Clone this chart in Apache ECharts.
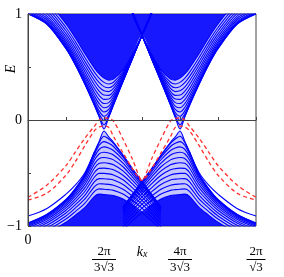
<!DOCTYPE html>
<html><head><meta charset="utf-8">
<script src="https://cdn.jsdelivr.net/npm/echarts@6/dist/echarts.min.js"></script>
<style>html,body{margin:0;padding:0;background:#fff}#c{width:284px;height:277px}</style>
</head><body><div id="c"></div>
<script>
// k_x sample positions (0 .. 2π/√3)
const K = [0, 0.3023, 0.6046, 0.7557, 0.9069, 1.0580, 1.1336, 1.2092, 1.2848, 1.3603, 1.5115, 1.6626, 1.8138, 1.9649, 2.1161, 2.2672, 2.3428, 2.4184, 2.4940, 2.5695, 2.7207, 2.8718, 3.0230, 3.3253, 3.6276];

// conduction-band lines around the left Dirac point (K index 0..14)
const cbL = [
 [1.0, .902, .672, .517, .334, .135, .027, -.085, .025, .140, .362, .579, .80, 1.021, 1.3],
 [1.002, .904, .674, .519, .337, .139, .035, -.045, .031, .142, .363, .579, .80, 1.021, 1.3],
 [1.006, .909, .680, .525, .345, .152, .056, -.005, .048, .150, .366, .580, .80, 1.020, 1.3],
 [1.014, .917, .689, .536, .358, .172, .084, .035, .071, .162, .370, .582, .80, 1.020, 1.3],
 [1.025, .928, .702, .550, .376, .197, .118, .075, .100, .178, .376, .584, .80, 1.019, 1.3],
 [1.039, .943, .718, .569, .398, .227, .154, .115, .131, .198, .383, .586, .80, 1.017, 1.3],
 [1.056, .960, .737, .590, .423, .260, .192, .155, .164, .220, .392, .589, .80, 1.015, 1.3],
 [1.076, .980, .760, .615, .452, .295, .231, .195, .198, .244, .403, .593, .80, 1.013, 1.3],
 [1.098, 1.003, .785, .642, .483, .332, .271, .235, .232, .270, .415, .597, .80, 1.011, 1.3],
 [1.122, 1.028, .812, .672, .516, .370, .311, .275, .268, .298, .428, .602, .80, 1.008, 1.3],
 [1.149, 1.055, .842, .703, .551, .409, .352, .315, .304, .326, .442, .607, .80, 1.005, 1.3],
 [1.178, 1.085, .873, .737, .587, .449, .393, .355, .340, .356, .457, .612, .80, 1.001, 1.3],
 [1.209, 1.116, .907, .773, .625, .490, .434, .395, .376, .386, .473, .619, .80, .997, 1.3]
];
// conduction-band lines around the right Dirac point (K index 10..24)
const cbR = [
 [1.3, 1.021, .80, .579, .362, .140, .025, -.085, .027, .135, .334, .517, .672, .902, 1.0],
 [1.3, 1.021, .80, .579, .363, .142, .031, -.045, .035, .139, .337, .519, .674, .904, 1.002],
 [1.3, 1.020, .80, .580, .366, .150, .048, -.005, .056, .152, .345, .525, .680, .909, 1.006],
 [1.3, 1.020, .80, .582, .370, .162, .071, .035, .084, .172, .358, .536, .689, .917, 1.014],
 [1.3, 1.019, .80, .584, .376, .178, .100, .075, .118, .197, .376, .550, .702, .928, 1.025],
 [1.3, 1.017, .80, .586, .383, .198, .131, .115, .154, .227, .398, .569, .718, .943, 1.039],
 [1.3, 1.015, .80, .589, .392, .220, .164, .155, .192, .260, .423, .590, .737, .960, 1.056],
 [1.3, 1.013, .80, .593, .403, .244, .198, .195, .231, .295, .452, .615, .760, .980, 1.076],
 [1.3, 1.011, .80, .597, .415, .270, .232, .235, .271, .332, .483, .642, .785, 1.003, 1.098],
 [1.3, 1.008, .80, .602, .428, .298, .268, .275, .311, .370, .516, .672, .812, 1.028, 1.122],
 [1.3, 1.005, .80, .607, .442, .326, .304, .315, .352, .409, .551, .703, .842, 1.055, 1.149],
 [1.3, 1.001, .80, .612, .457, .356, .340, .355, .393, .449, .587, .737, .873, 1.085, 1.178],
 [1.3, .997, .80, .619, .473, .386, .376, .395, .434, .490, .625, .773, .907, 1.116, 1.209]
];
// valence-band lines, left (K index 0..14)
const vbL = [
 [-.972, -.89, -.75, -.645, -.51, -.30, -.20, -.104, -.16, -.21, -.33, -.46, -.58, -.70, -.82],
 [-.973, -.891, -.752, -.647, -.513, -.306, -.211, -.154, -.179, -.221, -.336, -.464, -.583, -.702, -.822],
 [-.977, -.895, -.757, -.654, -.522, -.322, -.238, -.204, -.219, -.250, -.351, -.474, -.590, -.708, -.827],
 [-.983, -.902, -.765, -.664, -.536, -.347, -.276, -.254, -.264, -.288, -.375, -.490, -.603, -.719, -.836],
 [-.992, -.911, -.777, -.678, -.556, -.378, -.318, -.304, -.312, -.330, -.406, -.512, -.620, -.733, -.847],
 [-1.003, -.923, -.792, -.696, -.580, -.414, -.363, -.354, -.360, -.376, -.441, -.539, -.642, -.750, -.862],
 [-1.016, -.937, -.809, -.717, -.607, -.453, -.409, -.404, -.409, -.422, -.480, -.570, -.667, -.771, -.880],
 [-1.032, -.954, -.829, -.742, -.638, -.495, -.456, -.454, -.459, -.470, -.521, -.603, -.695, -.795, -.901],
 [-1.049, -.972, -.852, -.768, -.672, -.538, -.504, -.504, -.508, -.518, -.563, -.640, -.726, -.822, -.924],
 [-1.069, -.993, -.877, -.798, -.708, -.582, -.553, -.554, -.558, -.566, -.608, -.678, -.759, -.851, -.950],
 [-1.090, -1.016, -.905, -.829, -.745, -.628, -.601, -.604, -.607, -.615, -.653, -.718, -.794, -.882, -.977],
 [-1.113, -1.040, -.934, -.862, -.784, -.674, -.650, -.654, -.657, -.664, -.699, -.759, -.831, -.915, -1.007],
 [-1.138, -1.066, -.965, -.897, -.825, -.721, -.699, -.704, -.707, -.713, -.745, -.802, -.870, -.950, -1.038]
];
// valence-band lines, right (K index 10..24)
const vbR = [
 [-.82, -.70, -.58, -.46, -.33, -.21, -.16, -.104, -.20, -.30, -.51, -.645, -.75, -.89, -.972],
 [-.822, -.702, -.583, -.464, -.336, -.221, -.179, -.154, -.211, -.306, -.513, -.647, -.752, -.891, -.973],
 [-.827, -.708, -.590, -.474, -.351, -.250, -.219, -.204, -.238, -.322, -.522, -.654, -.757, -.895, -.977],
 [-.836, -.719, -.603, -.490, -.375, -.288, -.264, -.254, -.276, -.347, -.536, -.664, -.765, -.902, -.983],
 [-.847, -.733, -.620, -.512, -.406, -.330, -.312, -.304, -.318, -.378, -.556, -.678, -.777, -.911, -.992],
 [-.862, -.750, -.642, -.539, -.441, -.376, -.360, -.354, -.363, -.414, -.580, -.696, -.792, -.923, -1.003],
 [-.880, -.771, -.667, -.570, -.480, -.422, -.409, -.404, -.409, -.453, -.607, -.717, -.809, -.937, -1.016],
 [-.901, -.795, -.695, -.603, -.521, -.470, -.459, -.454, -.456, -.495, -.638, -.742, -.829, -.954, -1.032],
 [-.924, -.822, -.726, -.640, -.563, -.518, -.508, -.504, -.504, -.538, -.672, -.768, -.852, -.972, -1.049],
 [-.950, -.851, -.759, -.678, -.608, -.566, -.558, -.554, -.553, -.582, -.708, -.798, -.877, -.993, -1.069],
 [-.977, -.882, -.794, -.718, -.653, -.615, -.607, -.604, -.601, -.628, -.745, -.829, -.905, -1.016, -1.090],
 [-1.007, -.915, -.831, -.759, -.699, -.664, -.657, -.654, -.650, -.674, -.784, -.862, -.934, -1.040, -1.113],
 [-1.038, -.950, -.870, -.802, -.745, -.713, -.707, -.704, -.699, -.721, -.825, -.897, -.965, -1.066, -1.138]
];
// separated valence line near the zone edges
const isoL = [-.906, -.834, -.70, -.613, -.495, -.30];          // K index 0..5
const isoR = [-.30, -.495, -.613, -.70, -.834, -.906];          // K index 19..24
// band edges (light fill) and dense-band boundaries (solid fill), full K
const cbEdge = [1.0, .902, .672, .517, .334, .135, .027, -.085, .025, .140, .362, .579, .80, .579, .362, .140, .025, -.085, .027, .135, .334, .517, .672, .902, 1.0];
const vbEdge = [-.972, -.89, -.75, -.645, -.51, -.30, -.20, -.104, -.16, -.21, -.33, -.46, -.58, -.46, -.33, -.21, -.16, -.104, -.20, -.30, -.51, -.645, -.75, -.89, -.972];
const cbFill = [1.209, 1.116, .907, .773, .625, .490, .434, .395, .376, .386, .473, .619, .80, .619, .473, .386, .376, .395, .434, .490, .625, .773, .907, 1.116, 1.209];
const vbFill = [-1.138, -1.066, -.965, -.897, -.825, -.721, -.699, -.704, -.707, -.713, -.745, -.802, -.870, -.802, -.745, -.713, -.707, -.704, -.699, -.721, -.825, -.897, -.965, -1.066, -1.138];
// edge states (red dashed)
const red1 = [-.73, -.613, -.43, -.30, -.17, -.057, 0.0, .02, .015, -.01, -.18, -.37, -.566, -.37, -.18, -.01, .015, .02, 0.0, -.057, -.17, -.30, -.43, -.613, -.73];
const red2 = [-.755, -.69, -.52, -.39, -.24, -.10, -.066, -.057, -.07, -.156, -.31, -.46, -.57, -.46, -.31, -.156, -.07, -.057, -.066, -.10, -.24, -.39, -.52, -.69, -.755];

// tick labels
const XMAX = 3.6276, XSTEP = 0.6046;
const xNum = ['0', '', '2π', '', '4π', '', '2π'];
const xDen = ['', '', '3√3', '', '3√3', '', '√3'];
const xName = ['k', 'x'];
const yLabels = [[1, '1'], [0, '0'], [-1, '−1']];

const SERIF = '"Liberation Serif","DejaVu Serif",serif';
const chart = echarts.init(document.getElementById('c'), null, {renderer: 'canvas'});
function pts(arr, start) { return arr.map((v, j) => [K[start + j], v]); }
function blue(data) {
  return {type: 'line', data: data, smooth: 0.3, symbol: 'none', silent: true, z: 3,
    lineStyle: {color: '#0000ff', width: 1.1}};
}
function fill(data, origin, op, z) {
  return {type: 'line', data: data, smooth: 0.3, symbol: 'none', silent: true, z: z,
    lineStyle: {width: 0}, areaStyle: {origin: origin, color: '#0000ff', opacity: op}};
}
const series = [];
series.push(fill(pts(cbEdge, 0), 'end', 0.22, 1));
series.push(fill(pts(vbEdge, 0), 'start', 0.22, 1));
series.push(fill(pts(cbFill, 0), 'end', 0.88, 2));
series.push(fill(pts(vbFill, 0), 'start', 0.88, 2));
cbL.forEach(a => series.push(blue(pts(a, 0))));
cbR.forEach(a => series.push(blue(pts(a, 10))));
vbL.forEach(a => series.push(blue(pts(a, 0))));
vbR.forEach(a => series.push(blue(pts(a, 10))));
series.push(blue(pts(isoL, 0)));
series.push(blue(pts(isoR, 19)));
[red1, red2].forEach(a => series.push({type: 'line', data: pts(a, 0), smooth: 0.3, symbol: 'none', silent: true, z: 5,
  lineStyle: {color: '#ff3030', width: 1.3, type: [4, 3]}}));

chart.setOption({
  animation: false,
  backgroundColor: '#fff',
  grid: {left: 28, right: 28, top: 14, bottom: 51, show: true, borderColor: '#444', borderWidth: 1, backgroundColor: 'transparent'},
  xAxis: {
    type: 'value', min: 0, max: XMAX, interval: XSTEP, z: 10,
    axisLine: {show: true, lineStyle: {color: '#444', width: 1}},
    axisTick: {show: true, inside: true, length: 3, lineStyle: {color: '#444'}},
    splitLine: {show: false},
    axisLabel: {
      margin: 7, color: '#000', fontFamily: SERIF, fontSize: 13,
      formatter: function (v) {
        const i = Math.round(v / XSTEP);
        if (i === 3) return '{s2|}\n{k|' + xName[0] + '}{x|' + xName[1] + '}';
        if (!xNum[i]) return '';
        if (!xDen[i]) return '{z|' + xNum[i] + '}';
        return '{s|}\n{n|' + xNum[i] + '}\n{' + (xDen[i].length > 2 ? 'b' : 'c') + '|}\n{d|' + xDen[i] + '}';
      },
      rich: {
        z: {fontFamily: SERIF, fontSize: 14, lineHeight: 14, color: '#000'},
        s: {height: 13, lineHeight: 13},
        s2: {height: 12, lineHeight: 12},
        n: {fontFamily: SERIF, fontSize: 13, lineHeight: 12, color: '#000'},
        b: {width: 24, height: 1, lineHeight: 3, backgroundColor: '#000'},
        c: {width: 19, height: 1, lineHeight: 3, backgroundColor: '#000'},
        d: {fontFamily: SERIF, fontSize: 13, lineHeight: 13, color: '#000'},
        k: {fontFamily: SERIF, fontStyle: 'italic', fontSize: 14, lineHeight: 14, color: '#000'},
        x: {fontFamily: SERIF, fontStyle: 'italic', fontSize: 10, lineHeight: 8, verticalAlign: 'bottom', color: '#000'}
      }
    }
  },
  yAxis: {
    type: 'value', min: -1, max: 1, interval: 0.5, z: 10,
    axisLine: {show: true, lineStyle: {color: '#444', width: 1}},
    axisTick: {show: true, inside: true, length: 3, lineStyle: {color: '#444'}},
    splitLine: {show: false},
    axisLabel: {
      margin: 6, color: '#000', fontFamily: SERIF, fontSize: 14,
      formatter: function (v) {
        for (const [val, txt] of yLabels) if (Math.abs(v - val) < 1e-6) return txt;
        return '';
      }
    }
  },
  graphic: [{
    type: 'text', x: 11, y: 69, rotation: Math.PI / 2, z: 20,
    style: {text: 'E', font: 'italic 14px ' + SERIF, fill: '#000', textAlign: 'center', textVerticalAlign: 'middle'}
  }],
  series: series
});
</script></body></html>
